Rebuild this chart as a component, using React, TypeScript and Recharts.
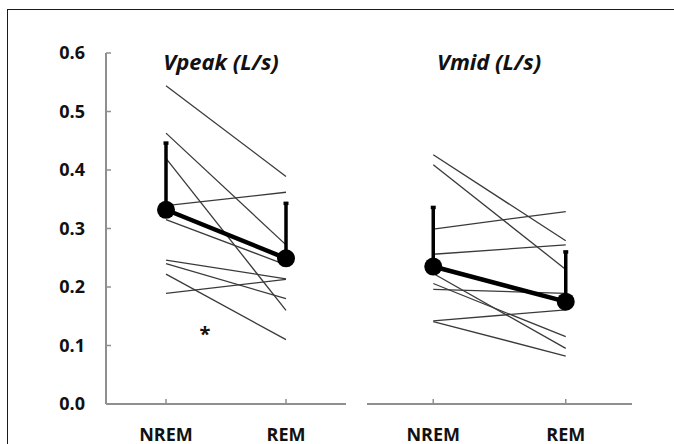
import { ErrorBar, Line, LineChart, XAxis, YAxis } from 'recharts';

const stages = ['NREM', 'REM'];
const yTicks = [0, 0.1, 0.2, 0.3, 0.4, 0.5, 0.6];

// individual subjects, NREM -> REM
const vpeakNrem = [0.544, 0.463, 0.42, 0.339, 0.315, 0.246, 0.24, 0.222, 0.189];
const vpeakRem = [0.389, 0.272, 0.16, 0.362, 0.238, 0.214, 0.18, 0.11, 0.213];
const vpeakMean = [0.332, 0.249];
const vpeakSd = [0.114, 0.094];

const vmidNrem = [0.426, 0.409, 0.299, 0.256, 0.223, 0.206, 0.196, 0.142, 0.141];
const vmidRem = [0.279, 0.23, 0.329, 0.272, 0.095, 0.115, 0.189, 0.161, 0.082];
const vmidMean = [0.235, 0.175];
const vmidSd = [0.101, 0.085];

const FONT = '"Open Sans", "Noto Sans", sans-serif';
const AXIS = '#8f8f8f';

function buildRows(nrem: number[], rem: number[], mean: number[], sd: number[]) {
  return stages.map((stage, i) => {
    const row: Record<string, number | string> = { stage, mean: mean[i], sd: sd[i] };
    const vals = i === 0 ? nrem : rem;
    vals.forEach((v, k) => {
      row[`s${k}`] = v;
    });
    return row;
  });
}

function YTick(props: any) {
  const { x, y, payload } = props;
  return (
    <g>
      <line x1={x + 21} x2={x + 26} y1={y} y2={y} stroke={AXIS} strokeWidth={1.5} />
      <text x={x} y={y} dy="0.36em" textAnchor="end" fontFamily={FONT} fontWeight={700} fontSize={18} fill="#111">
        {Number(payload.value).toFixed(1)}
      </text>
    </g>
  );
}

function XTick(props: any) {
  const { x, y, payload } = props;
  return (
    <g>
      <line x1={x} x2={x} y1={y - 24} y2={y - 29} stroke={AXIS} strokeWidth={1.5} />
      <text x={x} y={y} dy="0.71em" textAnchor="middle" fontFamily={FONT} fontWeight={700} fontSize={18} fill="#111">
        {payload.value}
      </text>
    </g>
  );
}

function Panel({
  rows,
  count,
  showY,
  margin,
}: {
  rows: Record<string, number | string>[];
  count: number;
  showY: boolean;
  margin: { top: number; right: number; bottom: number; left: number };
}) {
  return (
    <LineChart width={674} height={444} data={rows} margin={margin}>
      <XAxis
        dataKey="stage"
        scale="band"
        height={40}
        axisLine={{ stroke: AXIS, strokeWidth: 2 }}
        tickLine={false}
        tickSize={0}
        tickMargin={24}
        tick={<XTick />}
      />
      <YAxis
        hide={!showY}
        width={106}
        domain={[0, 0.6]}
        ticks={yTicks}
        axisLine={{ stroke: AXIS, strokeWidth: 2 }}
        tickLine={false}
        tickSize={0}
        tickMargin={21}
        tick={<YTick />}
      />
      {Array.from({ length: count }, (_, k) => (
        <Line
          key={k}
          dataKey={`s${k}`}
          stroke="#3a3a3a"
          strokeWidth={1.3}
          dot={false}
          isAnimationActive={false}
        />
      ))}
      <Line
        dataKey="mean"
        stroke="#000"
        strokeWidth={4.5}
        dot={{ r: 9, fill: '#000', stroke: 'none' }}
        isAnimationActive={false}
      >
        <ErrorBar
          dataKey={(d: any) => [0, d.sd]}
          direction="y"
          width={2.5}
          strokeWidth={3.5}
          stroke="#000"
        />
      </Line>
    </LineChart>
  );
}

export default function App() {
  const vpeakRows = buildRows(vpeakNrem, vpeakRem, vpeakMean, vpeakSd);
  const vmidRows = buildRows(vmidNrem, vmidRem, vmidMean, vmidSd);
  const title = {
    position: 'absolute' as const,
    top: 47,
    fontFamily: FONT,
    fontWeight: 700,
    fontStyle: 'italic',
    fontSize: 22,
    color: '#111',
    transform: 'translateX(-50%)',
    whiteSpace: 'nowrap' as const,
    lineHeight: '28px',
  };
  return (
    <div style={{ position: 'absolute', left: 0, top: 0, width: 674, height: 444, background: '#fff', overflow: 'hidden' }}>
      <div
        style={{
          position: 'absolute',
          left: 7,
          top: 9,
          width: 700,
          height: 500,
          borderLeft: '1.5px solid #1a1a1a',
          borderTop: '1.5px solid #1a1a1a',
        }}
      />
      <div style={{ position: 'absolute', left: 0, top: 0 }}>
        <Panel rows={vpeakRows} count={vpeakNrem.length} showY margin={{ top: 53, right: 328, bottom: 0, left: 0 }} />
      </div>
      <div style={{ position: 'absolute', left: 0, top: 0 }}>
        <Panel rows={vmidRows} count={vmidNrem.length} showY={false} margin={{ top: 53, right: 42, bottom: 0, left: 367 }} />
      </div>
      <div style={{ ...title, left: 221 }}>Vpeak (L/s)</div>
      <div style={{ ...title, left: 489 }}>Vmid (L/s)</div>
      <div
        style={{
          position: 'absolute',
          left: 205,
          top: 322,
          transform: 'translateX(-50%)',
          fontFamily: FONT,
          fontSize: 20,
          fontWeight: 700,
          color: '#111',
          lineHeight: '24px',
        }}
      >
        *
      </div>
    </div>
  );
}
